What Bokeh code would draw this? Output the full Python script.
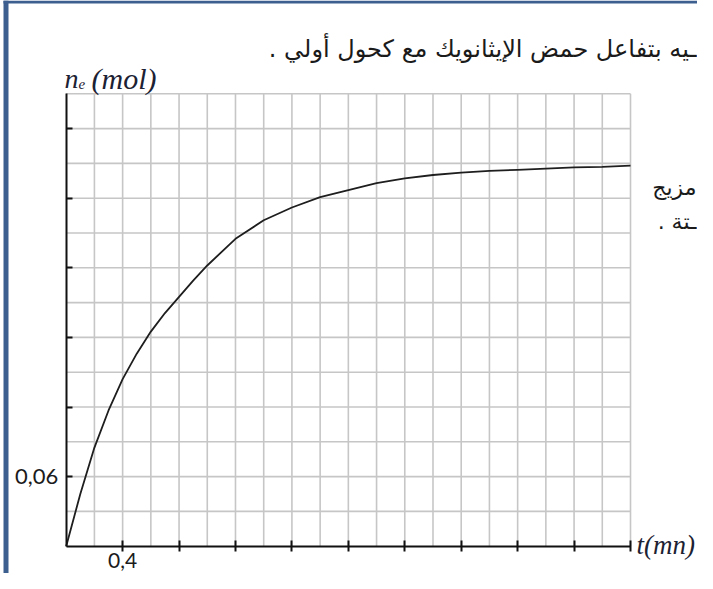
from bokeh.plotting import figure
from bokeh.models import Range1d, FixedTicker, Label, BoxAnnotation
from bokeh.embed import file_html
from bokeh.resources import INLINE

# ---- data ----
t_min = [0, 0.1, 0.2, 0.3, 0.4, 0.5, 0.6, 0.7, 0.8, 0.9, 1.0, 1.2, 1.4, 1.6,
         1.8, 2.0, 2.2, 2.4, 2.6, 2.8, 3.0, 3.2, 3.4, 3.6, 3.8, 4.0]
n_mol = [0, 0.045, 0.085, 0.117, 0.144, 0.166, 0.185, 0.201, 0.215, 0.229,
         0.242, 0.265, 0.281, 0.292, 0.301, 0.307, 0.313, 0.317, 0.320, 0.322,
         0.3235, 0.3245, 0.3255, 0.3265, 0.327, 0.328]

x_major = [0.4, 0.8, 1.2, 1.6, 2.0, 2.4, 2.8, 3.2, 3.6, 4.0]
x_cells = [0.2, 0.4, 0.6, 0.8, 1.0, 1.2, 1.4, 1.6, 1.8, 2.0,
           2.2, 2.4, 2.6, 2.8, 3.0, 3.2, 3.4, 3.6, 3.8, 4.0]
y_major = [0.06, 0.12, 0.18, 0.24, 0.30, 0.36]
y_cells = [0.03, 0.06, 0.09, 0.12, 0.15, 0.18, 0.21, 0.24, 0.27, 0.30,
           0.33, 0.36, 0.39]
x_tick_labels = {0.4: "0,4"}
y_tick_labels = {0.06: "0,06"}

x_title_t = "t(mn)"
y_title_n = "n"
y_title_sub = "e"
y_title_unit = "(mol)"
top_text = "\u200fـيه بتفاعل حمض الإيثانويك مع كحول أولي .\u200f"
side_text_1 = "\u200fمزيج\u200f"
side_text_2 = "\u200fـتة .\u200f"

# ---- geometry: the frame covers the whole canvas ----
W, H = 697, 573
X0_PX, X1_PX = 65.7, 630.0     # t = 0 .. 4.0
Y0_PX, Y1_PX = 545.7, 93.3     # n = 0 .. 0.39
T_END, N_END = x_cells[-1], y_cells[-1]


def dx(px):
    return (px - X0_PX) / (X1_PX - X0_PX) * T_END


def dy(py):
    return (Y0_PX - py) / (Y0_PX - Y1_PX) * N_END


p = figure(width=W, height=H, output_backend="svg", toolbar_location=None,
           x_range=Range1d(dx(0), dx(W)), y_range=Range1d(dy(H), dy(0)),
           min_border_left=0, min_border_right=0,
           min_border_top=0, min_border_bottom=0)
p.background_fill_color = "white"
p.border_fill_color = "white"
p.outline_line_color = None
p.grid.visible = False

# grid cells (light grey squares)
grid_col = "#c6c6c6"
p.segment(x0=x_cells, y0=[0] * len(x_cells), x1=x_cells, y1=[N_END] * len(x_cells),
          line_color=grid_col, line_width=1.6)
p.segment(x0=[0] * len(y_cells), y0=y_cells, x1=[T_END] * len(y_cells), y1=y_cells,
          line_color=grid_col, line_width=1.6)

# axes crossing at the origin
lab_font = "Lato"
p.xaxis.fixed_location = 0
p.xaxis.bounds = (0, T_END)
p.xaxis.ticker = FixedTicker(ticks=x_major)
p.xaxis.major_label_overrides = {v: x_tick_labels.get(v, "") for v in x_major}
p.yaxis.fixed_location = 0
p.yaxis.bounds = (0, N_END)
p.yaxis.ticker = FixedTicker(ticks=y_major)
p.yaxis.major_label_overrides = {v: y_tick_labels.get(v, "") for v in y_major}
for ax in (p.xaxis, p.yaxis):
    ax.axis_line_color = "#111111"
    ax.axis_line_width = 2
    ax.major_tick_line_color = "#111111"
    ax.major_tick_line_width = 2
    ax.minor_tick_line_color = None
    ax.major_label_text_font = lab_font
    ax.major_label_text_color = "#1b1b1b"
p.xaxis.major_label_text_font_size = "21px"
p.yaxis.major_label_text_font_size = "22px"
p.xaxis.major_tick_in = 6
p.xaxis.major_tick_out = 5
p.xaxis.major_label_standoff = 2
p.yaxis.major_tick_in = 6
p.yaxis.major_tick_out = 0
p.yaxis.major_label_standoff = 8

p.line(t_min, n_mol, line_color="#1e1e1e", line_width=1.8)

title_col = "#1c2233"
serif = "Liberation Serif"
p.add_layout(Label(x=dx(64), y=dy(78), text=y_title_n, text_font=serif,
                   text_font_style="italic", text_font_size="28px",
                   text_color=title_col, text_baseline="alphabetic"))
p.add_layout(Label(x=dx(78), y=dy(83), text=y_title_sub, text_font=serif,
                   text_font_style="italic", text_font_size="15px",
                   text_color=title_col, text_baseline="alphabetic"))
p.add_layout(Label(x=dx(91), y=dy(78), text=y_title_unit, text_font=serif,
                   text_font_style="italic", text_font_size="30px",
                   text_color=title_col, text_baseline="alphabetic"))
p.add_layout(Label(x=dx(636), y=dy(544), text=x_title_t, text_font=serif,
                   text_font_style="italic", text_font_size="27px",
                   text_color=title_col, text_baseline="alphabetic"))

ar_font = "DejaVu Sans"
ar_col = "#1a1a1a"
p.add_layout(Label(x=dx(696), y=dy(48), text=top_text, text_font=ar_font,
                   text_font_size="24px", text_color=ar_col,
                   text_align="right", text_baseline="alphabetic"))
p.add_layout(Label(x=dx(696), y=dy(187), text=side_text_1, text_font=ar_font,
                   text_font_size="22px", text_color=ar_col,
                   text_align="right", text_baseline="alphabetic"))
p.add_layout(Label(x=dx(696), y=dy(221), text=side_text_2, text_font=ar_font,
                   text_font_size="22px", text_color=ar_col,
                   text_align="right", text_baseline="alphabetic"))

# blue page frame (left and top edges)
blue = "#3d5f8f"
p.add_layout(BoxAnnotation(left=dx(3), right=dx(8), top=dy(0), bottom=dy(H),
                           fill_color=blue, fill_alpha=1.0, line_alpha=0))
p.add_layout(BoxAnnotation(left=dx(3), right=dx(W), top=dy(0), bottom=dy(3),
                           fill_color=blue, fill_alpha=1.0, line_alpha=0))

open("out.html", "w").write(file_html(p, INLINE))
